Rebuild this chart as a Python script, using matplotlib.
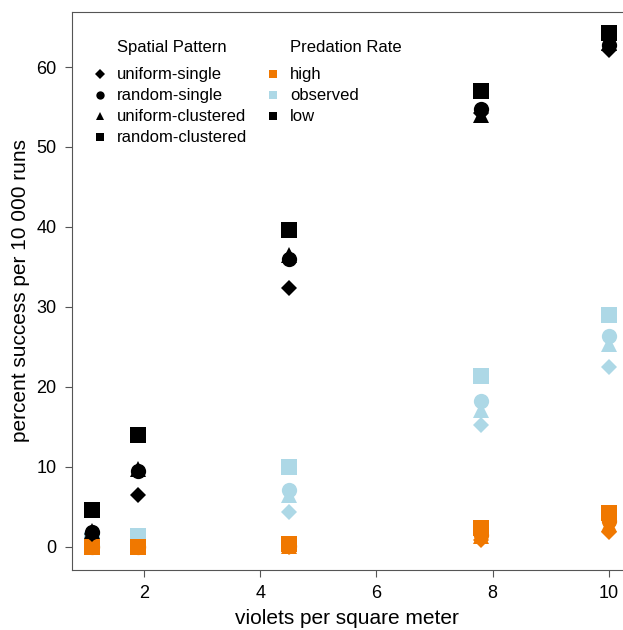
import numpy as np
import matplotlib
matplotlib.use("Agg")
import matplotlib.pyplot as plt
from matplotlib.lines import Line2D

plt.rcParams['font.family'] = ['Liberation Sans', 'DejaVu Sans']

# densities (violets per square meter)
density = [1.1, 1.9, 4.5, 7.8, 10.0]

# percent success per 10 000 runs, by predation rate and spatial pattern
low = {
    "uniform-single":    [1.6, 6.5, 32.4, 54.3, 62.1],
    "random-single":     [1.8, 9.5, 36.0, 54.8, 62.8],
    "uniform-clustered": [2.0, 9.7, 36.5, 54.0, 63.0],
    "random-clustered":  [4.6, 14.0, 39.6, 57.0, 64.2],
}
observed = {
    "uniform-single":    [0.0, 0.0, 4.4, 15.2, 22.5],
    "random-single":     [0.1, 0.1, 7.1, 18.2, 26.4],
    "uniform-clustered": [0.2, 0.2, 6.5, 17.1, 25.4],
    "random-clustered":  [0.9, 1.3, 10.0, 21.4, 29.0],
}
high = {
    "uniform-single":    [0.0, 0.0, 0.0, 0.9, 1.8],
    "random-single":     [0.0, 0.0, 0.1, 1.5, 3.2],
    "uniform-clustered": [0.0, 0.0, 0.1, 1.3, 2.8],
    "random-clustered":  [0.0, 0.0, 0.4, 2.3, 4.2],
}

patterns = ["uniform-single", "random-single", "uniform-clustered", "random-clustered"]
markers = {"uniform-single": "D", "random-single": "o",
           "uniform-clustered": "^", "random-clustered": "s"}
msize = {"uniform-single": 8, "random-single": 11,
         "uniform-clustered": 11, "random-clustered": 11}
rate_names = ["high", "observed", "low"]
rate_tables = {"high": high, "observed": observed, "low": low}
rate_colors = {"high": "#F07800", "observed": "#ADD8E6", "low": "black"}

fig = plt.figure(figsize=(6.23, 6.30), dpi=100)
ax = fig.add_axes([0.1156, 0.0952, 0.884, 0.886])

# observed first so that high sits on top of it near zero
for name in ["observed", "high", "low"]:
    for p in patterns[::-1]:
        ax.plot(density, rate_tables[name][p], linestyle="none", marker=markers[p],
                markersize=msize[p], color=rate_colors[name], markeredgewidth=0)

ax.set_xlim(0.76, 10.24)
ax.set_ylim(-2.9, 66.9)
ax.set_xticks([2, 4, 6, 8, 10])
ax.set_yticks([0, 10, 20, 30, 40, 50, 60])
ax.tick_params(direction="out", length=5, width=0.8, colors="#555555",
               labelcolor="black", labelsize=13, pad=6)
for s in ["left", "bottom", "top"]:
    ax.spines[s].set_color("#555555")
    ax.spines[s].set_linewidth(0.8)
ax.spines["right"].set_visible(False)

ax.set_xlabel("violets per square meter", fontsize=15, labelpad=5)
ax.set_ylabel("percent success per 10 000 runs", fontsize=15, labelpad=5)

# legends
h1 = [Line2D([], [], linestyle="none", marker=markers[p], color="black",
             markersize=6 if p != "uniform-single" else 5, markeredgewidth=0)
      for p in patterns]
fig.legend(h1, patterns, loc="upper left", bbox_to_anchor=(0.151, 0.893),
           frameon=False, fontsize=12, handlelength=0.7, handletextpad=0.68,
           labelspacing=0.36, borderpad=0, borderaxespad=0)
fig.text(0.1878, 0.925, "Spatial Pattern", fontsize=12, ha="left", va="center")

h2 = [Line2D([], [], linestyle="none", marker="s", color=rate_colors[r],
             markersize=6, markeredgewidth=0) for r in rate_names]
fig.legend(h2, rate_names, loc="upper left", bbox_to_anchor=(0.4286, 0.893),
           frameon=False, fontsize=12, handlelength=0.7, handletextpad=0.68,
           labelspacing=0.36, borderpad=0, borderaxespad=0)
fig.text(0.4655, 0.925, "Predation Rate", fontsize=12, ha="left", va="center")

fig.savefig("out.png", dpi=100)
